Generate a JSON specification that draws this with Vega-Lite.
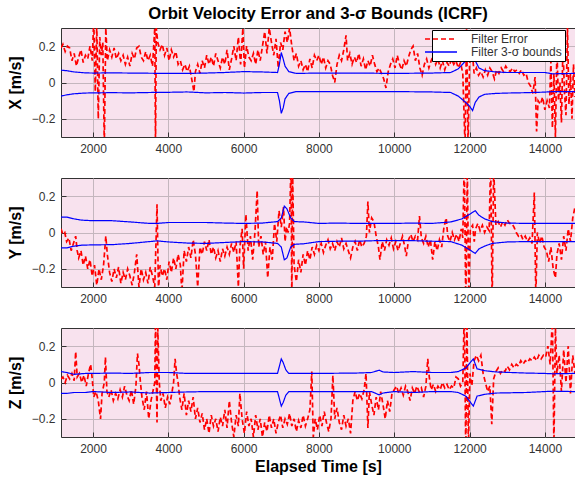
{
"$schema": "https://vega.github.io/schema/vega-lite/v6.json",
"background": "white",
"padding": {"left": 6, "top": 5, "right": 0, "bottom": 4},
"title": {"text": "Orbit Velocity Error and 3-σ Bounds (ICRF)", "font": "Liberation Sans", "fontSize": 16.7, "fontWeight": "bold", "color": "#000", "anchor": "middle", "frame": "group", "offset": 5},
"spacing": 22,
"datasets": {
"eX": [{"t":1150,"Filter Error":0.19},{"t":1200,"Filter Error":0.21},{"t":1260,"Filter Error":0.17},{"t":1320,"Filter Error":0.2},{"t":1380,"Filter Error":0.19},{"t":1440,"Filter Error":0.12},{"t":1500,"Filter Error":0.16},{"t":1560,"Filter Error":0.09},{"t":1620,"Filter Error":0.14},{"t":1680,"Filter Error":0.18},{"t":1740,"Filter Error":0.11},{"t":1800,"Filter Error":0.15},{"t":1860,"Filter Error":0.13},{"t":1920,"Filter Error":0.2},{"t":1980,"Filter Error":0.12},{"t":2020,"Filter Error":0.35},{"t":2060,"Filter Error":-0.05},{"t":2100,"Filter Error":0.32},{"t":2140,"Filter Error":-0.2},{"t":2180,"Filter Error":0.25},{"t":2220,"Filter Error":0.15},{"t":2260,"Filter Error":0.22},{"t":2300,"Filter Error":-0.35},{"t":2340,"Filter Error":0.3},{"t":2380,"Filter Error":0.12},{"t":2440,"Filter Error":0.18},{"t":2500,"Filter Error":0.14},{"t":2560,"Filter Error":0.19},{"t":2620,"Filter Error":0.13},{"t":2680,"Filter Error":0.16},{"t":2740,"Filter Error":0.12},{"t":2800,"Filter Error":0.15},{"t":2860,"Filter Error":0.1},{"t":2920,"Filter Error":0.14},{"t":2980,"Filter Error":0.09},{"t":3040,"Filter Error":0.16},{"t":3100,"Filter Error":0.13},{"t":3160,"Filter Error":0.19},{"t":3220,"Filter Error":0.2},{"t":3280,"Filter Error":0.14},{"t":3340,"Filter Error":0.12},{"t":3400,"Filter Error":0.17},{"t":3460,"Filter Error":0.12},{"t":3520,"Filter Error":0.15},{"t":3580,"Filter Error":0.09},{"t":3640,"Filter Error":0.3},{"t":3660,"Filter Error":-0.35},{"t":3680,"Filter Error":0.3},{"t":3720,"Filter Error":0.22},{"t":3780,"Filter Error":0.18},{"t":3840,"Filter Error":0.21},{"t":3900,"Filter Error":0.15},{"t":3960,"Filter Error":0.19},{"t":4020,"Filter Error":0.12},{"t":4080,"Filter Error":0.18},{"t":4140,"Filter Error":0.14},{"t":4200,"Filter Error":0.17},{"t":4260,"Filter Error":0.1},{"t":4320,"Filter Error":0.12},{"t":4380,"Filter Error":0.07},{"t":4440,"Filter Error":0.1},{"t":4500,"Filter Error":0.06},{"t":4560,"Filter Error":0.09},{"t":4620,"Filter Error":0.02},{"t":4680,"Filter Error":-0.05},{"t":4720,"Filter Error":0.06},{"t":4780,"Filter Error":0.1},{"t":4840,"Filter Error":0.05},{"t":4900,"Filter Error":0.12},{"t":4960,"Filter Error":0.08},{"t":5020,"Filter Error":0.15},{"t":5080,"Filter Error":0.1},{"t":5140,"Filter Error":0.14},{"t":5200,"Filter Error":0.09},{"t":5260,"Filter Error":0.16},{"t":5320,"Filter Error":0.12},{"t":5380,"Filter Error":0.08},{"t":5440,"Filter Error":0.14},{"t":5500,"Filter Error":0.1},{"t":5560,"Filter Error":0.18},{"t":5620,"Filter Error":0.07},{"t":5680,"Filter Error":0.13},{"t":5740,"Filter Error":0.2},{"t":5800,"Filter Error":0.12},{"t":5860,"Filter Error":0.25},{"t":5920,"Filter Error":0.1},{"t":5980,"Filter Error":0.3},{"t":6020,"Filter Error":0.08},{"t":6080,"Filter Error":0.2},{"t":6140,"Filter Error":0.14},{"t":6200,"Filter Error":0.12},{"t":6260,"Filter Error":0.16},{"t":6320,"Filter Error":0.1},{"t":6380,"Filter Error":0.18},{"t":6440,"Filter Error":0.12},{"t":6500,"Filter Error":0.2},{"t":6560,"Filter Error":0.28},{"t":6620,"Filter Error":0.16},{"t":6680,"Filter Error":0.3},{"t":6740,"Filter Error":0.22},{"t":6800,"Filter Error":0.15},{"t":6860,"Filter Error":0.24},{"t":6920,"Filter Error":0.08},{"t":6980,"Filter Error":0.22},{"t":7040,"Filter Error":0.18},{"t":7100,"Filter Error":0.28},{"t":7160,"Filter Error":0.22},{"t":7220,"Filter Error":0.3},{"t":7280,"Filter Error":0.2},{"t":7340,"Filter Error":0.12},{"t":7400,"Filter Error":0.16},{"t":7460,"Filter Error":0.09},{"t":7520,"Filter Error":0.12},{"t":7580,"Filter Error":0.07},{"t":7640,"Filter Error":0.1},{"t":7700,"Filter Error":0.06},{"t":7760,"Filter Error":0.13},{"t":7820,"Filter Error":0.08},{"t":7880,"Filter Error":0.15},{"t":7940,"Filter Error":0.12},{"t":8000,"Filter Error":0.15},{"t":8060,"Filter Error":0.1},{"t":8120,"Filter Error":0.14},{"t":8180,"Filter Error":0.08},{"t":8240,"Filter Error":0.12},{"t":8300,"Filter Error":0.1},{"t":8360,"Filter Error":0.04},{"t":8420,"Filter Error":0.0},{"t":8480,"Filter Error":0.1},{"t":8540,"Filter Error":0.15},{"t":8600,"Filter Error":0.12},{"t":8660,"Filter Error":0.18},{"t":8720,"Filter Error":0.26},{"t":8760,"Filter Error":0.12},{"t":8820,"Filter Error":0.16},{"t":8880,"Filter Error":0.1},{"t":8940,"Filter Error":0.14},{"t":9000,"Filter Error":0.11},{"t":9060,"Filter Error":0.16},{"t":9120,"Filter Error":0.09},{"t":9180,"Filter Error":0.13},{"t":9240,"Filter Error":0.07},{"t":9300,"Filter Error":0.12},{"t":9360,"Filter Error":0.09},{"t":9420,"Filter Error":0.15},{"t":9480,"Filter Error":0.1},{"t":9540,"Filter Error":0.06},{"t":9600,"Filter Error":0.08},{"t":9660,"Filter Error":0.05},{"t":9720,"Filter Error":0.02},{"t":9780,"Filter Error":-0.03},{"t":9840,"Filter Error":0.06},{"t":9900,"Filter Error":0.1},{"t":9960,"Filter Error":0.13},{"t":10020,"Filter Error":0.08},{"t":10080,"Filter Error":0.15},{"t":10140,"Filter Error":0.1},{"t":10200,"Filter Error":0.07},{"t":10260,"Filter Error":0.12},{"t":10320,"Filter Error":0.09},{"t":10380,"Filter Error":0.14},{"t":10440,"Filter Error":0.18},{"t":10500,"Filter Error":0.2},{"t":10560,"Filter Error":0.12},{"t":10620,"Filter Error":0.16},{"t":10680,"Filter Error":0.08},{"t":10740,"Filter Error":0.04},{"t":10800,"Filter Error":0.1},{"t":10860,"Filter Error":0.13},{"t":10920,"Filter Error":0.08},{"t":10980,"Filter Error":0.12},{"t":11040,"Filter Error":0.15},{"t":11100,"Filter Error":0.1},{"t":11160,"Filter Error":0.13},{"t":11220,"Filter Error":0.08},{"t":11280,"Filter Error":0.12},{"t":11340,"Filter Error":0.07},{"t":11400,"Filter Error":0.11},{"t":11460,"Filter Error":0.09},{"t":11520,"Filter Error":0.13},{"t":11580,"Filter Error":0.1},{"t":11640,"Filter Error":0.12},{"t":11700,"Filter Error":0.08},{"t":11760,"Filter Error":0.11},{"t":11820,"Filter Error":0.05},{"t":11880,"Filter Error":-0.35},{"t":11920,"Filter Error":0.3},{"t":11960,"Filter Error":-0.35},{"t":12000,"Filter Error":0.1},{"t":12060,"Filter Error":0.2},{"t":12120,"Filter Error":0.05},{"t":12180,"Filter Error":0.08},{"t":12240,"Filter Error":0.04},{"t":12300,"Filter Error":0.06},{"t":12360,"Filter Error":0.03},{"t":12420,"Filter Error":0.07},{"t":12480,"Filter Error":0.04},{"t":12540,"Filter Error":0.08},{"t":12600,"Filter Error":0.06},{"t":12660,"Filter Error":0.02},{"t":12720,"Filter Error":0.07},{"t":12780,"Filter Error":0.05},{"t":12840,"Filter Error":0.08},{"t":12900,"Filter Error":0.06},{"t":12960,"Filter Error":0.09},{"t":13020,"Filter Error":0.07},{"t":13080,"Filter Error":0.06},{"t":13140,"Filter Error":0.08},{"t":13200,"Filter Error":0.06},{"t":13260,"Filter Error":0.07},{"t":13320,"Filter Error":0.05},{"t":13380,"Filter Error":0.07},{"t":13440,"Filter Error":0.04},{"t":13500,"Filter Error":0.05},{"t":13560,"Filter Error":0.0},{"t":13620,"Filter Error":-0.02},{"t":13680,"Filter Error":-0.06},{"t":13740,"Filter Error":0.03},{"t":13780,"Filter Error":-0.27},{"t":13820,"Filter Error":-0.1},{"t":13880,"Filter Error":-0.12},{"t":13940,"Filter Error":-0.08},{"t":14000,"Filter Error":-0.15},{"t":14060,"Filter Error":-0.1},{"t":14120,"Filter Error":-0.14},{"t":14160,"Filter Error":0.12},{"t":14200,"Filter Error":-0.25},{"t":14240,"Filter Error":0.05},{"t":14280,"Filter Error":-0.3},{"t":14320,"Filter Error":0.18},{"t":14360,"Filter Error":-0.1},{"t":14400,"Filter Error":0.0},{"t":14440,"Filter Error":-0.22},{"t":14480,"Filter Error":0.2},{"t":14520,"Filter Error":-0.05},{"t":14560,"Filter Error":-0.18},{"t":14600,"Filter Error":0.3},{"t":14640,"Filter Error":-0.12},{"t":14680,"Filter Error":0.05},{"t":14720,"Filter Error":-0.2},{"t":14760,"Filter Error":0.1},{"t":14800,"Filter Error":-0.08}],
"bX": [{"t":1150,"s":"Filter 3-σ bounds","up":0.068,"lo":-0.075},{"t":1300,"s":"Filter 3-σ bounds","up":0.065,"lo":-0.068},{"t":1500,"s":"Filter 3-σ bounds","up":0.058,"lo":-0.062},{"t":1800,"s":"Filter 3-σ bounds","up":0.053,"lo":-0.058},{"t":2000,"s":"Filter 3-σ bounds","up":0.052,"lo":-0.057},{"t":2500,"s":"Filter 3-σ bounds","up":0.053,"lo":-0.056},{"t":3000,"s":"Filter 3-σ bounds","up":0.052,"lo":-0.057},{"t":3500,"s":"Filter 3-σ bounds","up":0.051,"lo":-0.055},{"t":4000,"s":"Filter 3-σ bounds","up":0.05,"lo":-0.054},{"t":4500,"s":"Filter 3-σ bounds","up":0.05,"lo":-0.052},{"t":5000,"s":"Filter 3-σ bounds","up":0.052,"lo":-0.057},{"t":5500,"s":"Filter 3-σ bounds","up":0.055,"lo":-0.055},{"t":6000,"s":"Filter 3-σ bounds","up":0.06,"lo":-0.058},{"t":6500,"s":"Filter 3-σ bounds","up":0.058,"lo":-0.055},{"t":6900,"s":"Filter 3-σ bounds","up":0.055,"lo":-0.055},{"t":6950,"s":"Filter 3-σ bounds","up":0.1,"lo":-0.1},{"t":7000,"s":"Filter 3-σ bounds","up":0.165,"lo":-0.17},{"t":7050,"s":"Filter 3-σ bounds","up":0.13,"lo":-0.14},{"t":7100,"s":"Filter 3-σ bounds","up":0.09,"lo":-0.09},{"t":7200,"s":"Filter 3-σ bounds","up":0.06,"lo":-0.06},{"t":7400,"s":"Filter 3-σ bounds","up":0.05,"lo":-0.05},{"t":8000,"s":"Filter 3-σ bounds","up":0.052,"lo":-0.05},{"t":9000,"s":"Filter 3-σ bounds","up":0.052,"lo":-0.05},{"t":10000,"s":"Filter 3-σ bounds","up":0.05,"lo":-0.05},{"t":11000,"s":"Filter 3-σ bounds","up":0.052,"lo":-0.052},{"t":11500,"s":"Filter 3-σ bounds","up":0.055,"lo":-0.055},{"t":11700,"s":"Filter 3-σ bounds","up":0.075,"lo":-0.075},{"t":11900,"s":"Filter 3-σ bounds","up":0.12,"lo":-0.11},{"t":12000,"s":"Filter 3-σ bounds","up":0.16,"lo":-0.13},{"t":12080,"s":"Filter 3-σ bounds","up":0.2,"lo":-0.155},{"t":12150,"s":"Filter 3-σ bounds","up":0.12,"lo":-0.11},{"t":12250,"s":"Filter 3-σ bounds","up":0.08,"lo":-0.08},{"t":12400,"s":"Filter 3-σ bounds","up":0.065,"lo":-0.065},{"t":12700,"s":"Filter 3-σ bounds","up":0.058,"lo":-0.06},{"t":13000,"s":"Filter 3-σ bounds","up":0.055,"lo":-0.058},{"t":13500,"s":"Filter 3-σ bounds","up":0.055,"lo":-0.056},{"t":14000,"s":"Filter 3-σ bounds","up":0.055,"lo":-0.053},{"t":14200,"s":"Filter 3-σ bounds","up":0.048,"lo":-0.05},{"t":14800,"s":"Filter 3-σ bounds","up":0.05,"lo":-0.05}],
"eY": [{"t":1150,"Filter Error":0.02},{"t":1200,"Filter Error":-0.01},{"t":1250,"Filter Error":0.0},{"t":1300,"Filter Error":-0.05},{"t":1360,"Filter Error":-0.03},{"t":1420,"Filter Error":-0.1},{"t":1480,"Filter Error":-0.06},{"t":1540,"Filter Error":-0.02},{"t":1580,"Filter Error":-0.1},{"t":1620,"Filter Error":-0.14},{"t":1680,"Filter Error":-0.1},{"t":1740,"Filter Error":-0.18},{"t":1800,"Filter Error":-0.13},{"t":1860,"Filter Error":-0.2},{"t":1920,"Filter Error":-0.15},{"t":1980,"Filter Error":-0.24},{"t":2040,"Filter Error":-0.18},{"t":2100,"Filter Error":-0.29},{"t":2160,"Filter Error":-0.2},{"t":2220,"Filter Error":-0.26},{"t":2280,"Filter Error":-0.18},{"t":2340,"Filter Error":-0.02},{"t":2380,"Filter Error":-0.12},{"t":2440,"Filter Error":-0.22},{"t":2500,"Filter Error":-0.27},{"t":2560,"Filter Error":-0.2},{"t":2620,"Filter Error":-0.25},{"t":2680,"Filter Error":-0.19},{"t":2740,"Filter Error":-0.28},{"t":2800,"Filter Error":-0.22},{"t":2860,"Filter Error":-0.26},{"t":2920,"Filter Error":-0.2},{"t":2980,"Filter Error":-0.24},{"t":3040,"Filter Error":-0.29},{"t":3100,"Filter Error":-0.22},{"t":3160,"Filter Error":-0.12},{"t":3220,"Filter Error":-0.3},{"t":3280,"Filter Error":-0.2},{"t":3340,"Filter Error":-0.26},{"t":3400,"Filter Error":-0.22},{"t":3460,"Filter Error":-0.28},{"t":3520,"Filter Error":-0.19},{"t":3580,"Filter Error":-0.24},{"t":3640,"Filter Error":-0.3},{"t":3700,"Filter Error":0.155},{"t":3740,"Filter Error":-0.32},{"t":3780,"Filter Error":-0.18},{"t":3840,"Filter Error":-0.24},{"t":3900,"Filter Error":-0.2},{"t":3960,"Filter Error":-0.26},{"t":4020,"Filter Error":-0.16},{"t":4080,"Filter Error":-0.22},{"t":4140,"Filter Error":-0.14},{"t":4200,"Filter Error":-0.2},{"t":4260,"Filter Error":-0.12},{"t":4320,"Filter Error":-0.18},{"t":4360,"Filter Error":-0.33},{"t":4420,"Filter Error":-0.1},{"t":4480,"Filter Error":-0.16},{"t":4540,"Filter Error":-0.08},{"t":4600,"Filter Error":-0.14},{"t":4660,"Filter Error":-0.04},{"t":4720,"Filter Error":-0.12},{"t":4780,"Filter Error":-0.3},{"t":4840,"Filter Error":-0.08},{"t":4900,"Filter Error":-0.12},{"t":4960,"Filter Error":-0.05},{"t":5020,"Filter Error":-0.1},{"t":5080,"Filter Error":-0.04},{"t":5140,"Filter Error":-0.12},{"t":5200,"Filter Error":-0.08},{"t":5260,"Filter Error":-0.14},{"t":5320,"Filter Error":-0.1},{"t":5380,"Filter Error":-0.16},{"t":5440,"Filter Error":-0.09},{"t":5500,"Filter Error":-0.13},{"t":5560,"Filter Error":-0.08},{"t":5620,"Filter Error":-0.12},{"t":5680,"Filter Error":-0.06},{"t":5740,"Filter Error":-0.11},{"t":5800,"Filter Error":-0.05},{"t":5860,"Filter Error":-0.3},{"t":5900,"Filter Error":-0.08},{"t":5960,"Filter Error":0.02},{"t":6000,"Filter Error":-0.2},{"t":6060,"Filter Error":0.1},{"t":6120,"Filter Error":-0.1},{"t":6180,"Filter Error":-0.02},{"t":6240,"Filter Error":-0.15},{"t":6300,"Filter Error":0.0},{"t":6360,"Filter Error":0.23},{"t":6400,"Filter Error":-0.08},{"t":6460,"Filter Error":-0.02},{"t":6520,"Filter Error":-0.12},{"t":6580,"Filter Error":-0.05},{"t":6640,"Filter Error":-0.25},{"t":6700,"Filter Error":-0.08},{"t":6760,"Filter Error":-0.15},{"t":6820,"Filter Error":0.05},{"t":6880,"Filter Error":-0.05},{"t":6940,"Filter Error":0.12},{"t":7000,"Filter Error":0.03},{"t":7060,"Filter Error":0.14},{"t":7100,"Filter Error":-0.05},{"t":7140,"Filter Error":0.03},{"t":7180,"Filter Error":0.0},{"t":7220,"Filter Error":0.05},{"t":7260,"Filter Error":0.4},{"t":7280,"Filter Error":-0.4},{"t":7300,"Filter Error":0.35},{"t":7340,"Filter Error":-0.18},{"t":7400,"Filter Error":-0.27},{"t":7460,"Filter Error":-0.15},{"t":7520,"Filter Error":-0.22},{"t":7580,"Filter Error":-0.12},{"t":7640,"Filter Error":-0.18},{"t":7700,"Filter Error":-0.1},{"t":7760,"Filter Error":-0.15},{"t":7820,"Filter Error":-0.08},{"t":7880,"Filter Error":-0.12},{"t":7940,"Filter Error":-0.07},{"t":8000,"Filter Error":-0.1},{"t":8060,"Filter Error":-0.06},{"t":8120,"Filter Error":-0.11},{"t":8180,"Filter Error":-0.07},{"t":8240,"Filter Error":-0.04},{"t":8300,"Filter Error":-0.09},{"t":8360,"Filter Error":-0.06},{"t":8420,"Filter Error":-0.1},{"t":8480,"Filter Error":-0.05},{"t":8540,"Filter Error":-0.08},{"t":8600,"Filter Error":-0.03},{"t":8660,"Filter Error":-0.09},{"t":8720,"Filter Error":-0.06},{"t":8780,"Filter Error":-0.1},{"t":8840,"Filter Error":-0.14},{"t":8900,"Filter Error":-0.08},{"t":8960,"Filter Error":-0.05},{"t":9020,"Filter Error":-0.1},{"t":9080,"Filter Error":-0.04},{"t":9140,"Filter Error":-0.08},{"t":9200,"Filter Error":-0.06},{"t":9260,"Filter Error":-0.02},{"t":9300,"Filter Error":0.17},{"t":9340,"Filter Error":0.0},{"t":9400,"Filter Error":0.08},{"t":9460,"Filter Error":0.06},{"t":9520,"Filter Error":-0.02},{"t":9580,"Filter Error":-0.08},{"t":9620,"Filter Error":-0.15},{"t":9680,"Filter Error":-0.05},{"t":9740,"Filter Error":-0.1},{"t":9800,"Filter Error":-0.04},{"t":9860,"Filter Error":-0.07},{"t":9920,"Filter Error":-0.03},{"t":9980,"Filter Error":-0.09},{"t":10040,"Filter Error":-0.05},{"t":10100,"Filter Error":-0.1},{"t":10160,"Filter Error":-0.06},{"t":10220,"Filter Error":-0.02},{"t":10280,"Filter Error":-0.08},{"t":10320,"Filter Error":-0.13},{"t":10380,"Filter Error":-0.04},{"t":10440,"Filter Error":-0.01},{"t":10500,"Filter Error":-0.05},{"t":10560,"Filter Error":-0.02},{"t":10620,"Filter Error":-0.04},{"t":10670,"Filter Error":0.09},{"t":10720,"Filter Error":-0.03},{"t":10780,"Filter Error":-0.06},{"t":10840,"Filter Error":-0.02},{"t":10900,"Filter Error":-0.08},{"t":10960,"Filter Error":-0.04},{"t":11020,"Filter Error":-0.15},{"t":11080,"Filter Error":-0.05},{"t":11140,"Filter Error":-0.1},{"t":11200,"Filter Error":-0.04},{"t":11260,"Filter Error":-0.08},{"t":11320,"Filter Error":0.03},{"t":11380,"Filter Error":0.08},{"t":11420,"Filter Error":-0.02},{"t":11480,"Filter Error":-0.05},{"t":11540,"Filter Error":0.0},{"t":11600,"Filter Error":-0.04},{"t":11660,"Filter Error":-0.01},{"t":11720,"Filter Error":-0.05},{"t":11780,"Filter Error":0.02},{"t":11820,"Filter Error":-0.03},{"t":11860,"Filter Error":0.4},{"t":11900,"Filter Error":-0.4},{"t":11940,"Filter Error":0.35},{"t":11980,"Filter Error":-0.35},{"t":12020,"Filter Error":0.02},{"t":12080,"Filter Error":0.04},{"t":12125,"Filter Error":-0.05},{"t":12160,"Filter Error":0.02},{"t":12220,"Filter Error":0.05},{"t":12280,"Filter Error":0.01},{"t":12340,"Filter Error":0.04},{"t":12400,"Filter Error":0.0},{"t":12460,"Filter Error":0.03},{"t":12520,"Filter Error":0.01},{"t":12560,"Filter Error":0.4},{"t":12600,"Filter Error":-0.4},{"t":12640,"Filter Error":0.35},{"t":12700,"Filter Error":0.04},{"t":12760,"Filter Error":0.06},{"t":12820,"Filter Error":0.03},{"t":12880,"Filter Error":0.06},{"t":12940,"Filter Error":0.04},{"t":13000,"Filter Error":0.07},{"t":13060,"Filter Error":0.05},{"t":13120,"Filter Error":0.05},{"t":13180,"Filter Error":0.03},{"t":13240,"Filter Error":0.0},{"t":13300,"Filter Error":-0.02},{"t":13360,"Filter Error":-0.01},{"t":13420,"Filter Error":-0.04},{"t":13480,"Filter Error":-0.02},{"t":13540,"Filter Error":-0.05},{"t":13600,"Filter Error":-0.03},{"t":13660,"Filter Error":-0.06},{"t":13720,"Filter Error":0.22},{"t":13760,"Filter Error":-0.35},{"t":13800,"Filter Error":0.0},{"t":13860,"Filter Error":-0.06},{"t":13920,"Filter Error":-0.02},{"t":13980,"Filter Error":-0.08},{"t":14040,"Filter Error":-0.1},{"t":14100,"Filter Error":-0.16},{"t":14160,"Filter Error":-0.08},{"t":14220,"Filter Error":-0.2},{"t":14280,"Filter Error":-0.25},{"t":14320,"Filter Error":-0.12},{"t":14380,"Filter Error":-0.06},{"t":14440,"Filter Error":-0.15},{"t":14500,"Filter Error":-0.02},{"t":14560,"Filter Error":-0.1},{"t":14620,"Filter Error":0.02},{"t":14680,"Filter Error":-0.05},{"t":14740,"Filter Error":0.08},{"t":14800,"Filter Error":0.14}],
"bY": [{"t":1150,"s":"Filter 3-σ bounds","up":0.085,"lo":-0.085},{"t":1300,"s":"Filter 3-σ bounds","up":0.085,"lo":-0.085},{"t":1500,"s":"Filter 3-σ bounds","up":0.075,"lo":-0.075},{"t":1700,"s":"Filter 3-σ bounds","up":0.068,"lo":-0.07},{"t":2000,"s":"Filter 3-σ bounds","up":0.065,"lo":-0.068},{"t":2500,"s":"Filter 3-σ bounds","up":0.065,"lo":-0.067},{"t":3000,"s":"Filter 3-σ bounds","up":0.058,"lo":-0.06},{"t":3500,"s":"Filter 3-σ bounds","up":0.05,"lo":-0.05},{"t":3700,"s":"Filter 3-σ bounds","up":0.05,"lo":-0.046},{"t":4000,"s":"Filter 3-σ bounds","up":0.055,"lo":-0.052},{"t":4500,"s":"Filter 3-σ bounds","up":0.055,"lo":-0.058},{"t":5000,"s":"Filter 3-σ bounds","up":0.055,"lo":-0.06},{"t":5500,"s":"Filter 3-σ bounds","up":0.052,"lo":-0.055},{"t":6000,"s":"Filter 3-σ bounds","up":0.05,"lo":-0.05},{"t":6500,"s":"Filter 3-σ bounds","up":0.052,"lo":-0.052},{"t":6900,"s":"Filter 3-σ bounds","up":0.06,"lo":-0.06},{"t":7000,"s":"Filter 3-σ bounds","up":0.08,"lo":-0.08},{"t":7080,"s":"Filter 3-σ bounds","up":0.145,"lo":-0.15},{"t":7150,"s":"Filter 3-σ bounds","up":0.13,"lo":-0.14},{"t":7250,"s":"Filter 3-σ bounds","up":0.08,"lo":-0.08},{"t":7350,"s":"Filter 3-σ bounds","up":0.06,"lo":-0.065},{"t":7600,"s":"Filter 3-σ bounds","up":0.058,"lo":-0.062},{"t":8000,"s":"Filter 3-σ bounds","up":0.05,"lo":-0.05},{"t":8500,"s":"Filter 3-σ bounds","up":0.052,"lo":-0.048},{"t":9000,"s":"Filter 3-σ bounds","up":0.05,"lo":-0.048},{"t":9500,"s":"Filter 3-σ bounds","up":0.05,"lo":-0.045},{"t":10000,"s":"Filter 3-σ bounds","up":0.05,"lo":-0.045},{"t":10500,"s":"Filter 3-σ bounds","up":0.052,"lo":-0.045},{"t":11000,"s":"Filter 3-σ bounds","up":0.05,"lo":-0.048},{"t":11500,"s":"Filter 3-σ bounds","up":0.058,"lo":-0.05},{"t":11800,"s":"Filter 3-σ bounds","up":0.075,"lo":-0.07},{"t":12000,"s":"Filter 3-σ bounds","up":0.1,"lo":-0.095},{"t":12150,"s":"Filter 3-σ bounds","up":0.12,"lo":-0.115},{"t":12250,"s":"Filter 3-σ bounds","up":0.095,"lo":-0.09},{"t":12400,"s":"Filter 3-σ bounds","up":0.075,"lo":-0.075},{"t":12600,"s":"Filter 3-σ bounds","up":0.06,"lo":-0.06},{"t":13000,"s":"Filter 3-σ bounds","up":0.052,"lo":-0.052},{"t":13500,"s":"Filter 3-σ bounds","up":0.05,"lo":-0.05},{"t":14000,"s":"Filter 3-σ bounds","up":0.05,"lo":-0.05},{"t":14800,"s":"Filter 3-σ bounds","up":0.05,"lo":-0.05}],
"eZ": [{"t":1150,"Filter Error":0.02},{"t":1200,"Filter Error":0.03},{"t":1260,"Filter Error":0.0},{"t":1320,"Filter Error":0.04},{"t":1380,"Filter Error":0.02},{"t":1440,"Filter Error":0.05},{"t":1500,"Filter Error":0.01},{"t":1540,"Filter Error":0.17},{"t":1580,"Filter Error":0.03},{"t":1640,"Filter Error":0.05},{"t":1700,"Filter Error":0.0},{"t":1760,"Filter Error":0.04},{"t":1820,"Filter Error":-0.02},{"t":1880,"Filter Error":0.05},{"t":1936,"Filter Error":0.1},{"t":1980,"Filter Error":0.02},{"t":2020,"Filter Error":-0.08},{"t":2080,"Filter Error":-0.05},{"t":2140,"Filter Error":-0.1},{"t":2200,"Filter Error":-0.2},{"t":2240,"Filter Error":-0.06},{"t":2300,"Filter Error":0.0},{"t":2330,"Filter Error":0.14},{"t":2370,"Filter Error":-0.05},{"t":2420,"Filter Error":-0.08},{"t":2480,"Filter Error":-0.04},{"t":2540,"Filter Error":-0.1},{"t":2600,"Filter Error":-0.06},{"t":2660,"Filter Error":-0.09},{"t":2720,"Filter Error":-0.04},{"t":2780,"Filter Error":-0.08},{"t":2840,"Filter Error":-0.02},{"t":2900,"Filter Error":-0.07},{"t":2960,"Filter Error":-0.1},{"t":3020,"Filter Error":-0.04},{"t":3080,"Filter Error":-0.12},{"t":3140,"Filter Error":-0.02},{"t":3180,"Filter Error":0.16},{"t":3220,"Filter Error":0.1},{"t":3260,"Filter Error":0.0},{"t":3300,"Filter Error":-0.08},{"t":3360,"Filter Error":-0.15},{"t":3420,"Filter Error":-0.05},{"t":3480,"Filter Error":-0.2},{"t":3540,"Filter Error":-0.1},{"t":3600,"Filter Error":-0.04},{"t":3640,"Filter Error":0.0},{"t":3660,"Filter Error":0.35},{"t":3680,"Filter Error":0.05},{"t":3700,"Filter Error":-0.22},{"t":3720,"Filter Error":0.3},{"t":3760,"Filter Error":0.0},{"t":3800,"Filter Error":-0.1},{"t":3860,"Filter Error":-0.06},{"t":3920,"Filter Error":-0.14},{"t":3980,"Filter Error":-0.08},{"t":4040,"Filter Error":-0.12},{"t":4100,"Filter Error":-0.05},{"t":4140,"Filter Error":0.0},{"t":4180,"Filter Error":0.13},{"t":4220,"Filter Error":0.05},{"t":4260,"Filter Error":0.0},{"t":4300,"Filter Error":-0.08},{"t":4360,"Filter Error":-0.15},{"t":4420,"Filter Error":-0.06},{"t":4480,"Filter Error":-0.18},{"t":4540,"Filter Error":-0.1},{"t":4600,"Filter Error":-0.16},{"t":4660,"Filter Error":-0.08},{"t":4720,"Filter Error":-0.2},{"t":4780,"Filter Error":-0.14},{"t":4840,"Filter Error":-0.22},{"t":4900,"Filter Error":-0.17},{"t":4960,"Filter Error":-0.26},{"t":5020,"Filter Error":-0.2},{"t":5080,"Filter Error":-0.28},{"t":5140,"Filter Error":-0.18},{"t":5200,"Filter Error":-0.24},{"t":5260,"Filter Error":-0.2},{"t":5320,"Filter Error":-0.27},{"t":5380,"Filter Error":-0.19},{"t":5440,"Filter Error":-0.24},{"t":5500,"Filter Error":-0.15},{"t":5560,"Filter Error":-0.25},{"t":5620,"Filter Error":-0.1},{"t":5680,"Filter Error":-0.22},{"t":5740,"Filter Error":-0.3},{"t":5800,"Filter Error":-0.18},{"t":5860,"Filter Error":-0.24},{"t":5900,"Filter Error":-0.06},{"t":5960,"Filter Error":-0.2},{"t":6020,"Filter Error":-0.28},{"t":6080,"Filter Error":-0.16},{"t":6140,"Filter Error":-0.24},{"t":6200,"Filter Error":-0.2},{"t":6260,"Filter Error":-0.3},{"t":6320,"Filter Error":-0.18},{"t":6380,"Filter Error":-0.26},{"t":6440,"Filter Error":-0.2},{"t":6500,"Filter Error":-0.3},{"t":6560,"Filter Error":-0.22},{"t":6620,"Filter Error":-0.27},{"t":6680,"Filter Error":-0.18},{"t":6740,"Filter Error":-0.25},{"t":6800,"Filter Error":-0.2},{"t":6860,"Filter Error":-0.28},{"t":6920,"Filter Error":-0.22},{"t":6980,"Filter Error":-0.18},{"t":7040,"Filter Error":-0.25},{"t":7100,"Filter Error":-0.2},{"t":7160,"Filter Error":-0.23},{"t":7220,"Filter Error":-0.17},{"t":7280,"Filter Error":-0.24},{"t":7340,"Filter Error":-0.2},{"t":7400,"Filter Error":-0.27},{"t":7460,"Filter Error":-0.21},{"t":7520,"Filter Error":-0.25},{"t":7580,"Filter Error":-0.18},{"t":7640,"Filter Error":-0.24},{"t":7700,"Filter Error":-0.2},{"t":7760,"Filter Error":-0.15},{"t":7810,"Filter Error":0.06},{"t":7850,"Filter Error":-0.3},{"t":7900,"Filter Error":-0.2},{"t":7960,"Filter Error":-0.26},{"t":8020,"Filter Error":-0.18},{"t":8080,"Filter Error":-0.24},{"t":8140,"Filter Error":-0.16},{"t":8200,"Filter Error":-0.22},{"t":8260,"Filter Error":-0.27},{"t":8320,"Filter Error":-0.2},{"t":8370,"Filter Error":0.04},{"t":8420,"Filter Error":-0.2},{"t":8480,"Filter Error":-0.14},{"t":8540,"Filter Error":-0.22},{"t":8600,"Filter Error":-0.26},{"t":8660,"Filter Error":-0.18},{"t":8720,"Filter Error":-0.24},{"t":8780,"Filter Error":-0.2},{"t":8840,"Filter Error":-0.28},{"t":8900,"Filter Error":-0.1},{"t":8960,"Filter Error":-0.05},{"t":9020,"Filter Error":-0.1},{"t":9080,"Filter Error":-0.06},{"t":9140,"Filter Error":-0.09},{"t":9200,"Filter Error":-0.04},{"t":9250,"Filter Error":0.05},{"t":9300,"Filter Error":-0.25},{"t":9340,"Filter Error":-0.05},{"t":9400,"Filter Error":-0.12},{"t":9460,"Filter Error":-0.18},{"t":9520,"Filter Error":-0.08},{"t":9580,"Filter Error":-0.15},{"t":9640,"Filter Error":-0.05},{"t":9700,"Filter Error":-0.12},{"t":9760,"Filter Error":-0.2},{"t":9820,"Filter Error":-0.1},{"t":9880,"Filter Error":-0.16},{"t":9940,"Filter Error":-0.06},{"t":10000,"Filter Error":-0.04},{"t":10060,"Filter Error":-0.02},{"t":10120,"Filter Error":-0.06},{"t":10180,"Filter Error":-0.03},{"t":10240,"Filter Error":-0.07},{"t":10300,"Filter Error":-0.02},{"t":10360,"Filter Error":-0.05},{"t":10420,"Filter Error":-0.1},{"t":10480,"Filter Error":-0.03},{"t":10540,"Filter Error":-0.06},{"t":10600,"Filter Error":-0.02},{"t":10660,"Filter Error":-0.05},{"t":10720,"Filter Error":-0.03},{"t":10780,"Filter Error":-0.08},{"t":10840,"Filter Error":-0.02},{"t":10890,"Filter Error":0.13},{"t":10930,"Filter Error":0.03},{"t":10980,"Filter Error":-0.04},{"t":11040,"Filter Error":-0.01},{"t":11100,"Filter Error":-0.05},{"t":11160,"Filter Error":-0.02},{"t":11220,"Filter Error":-0.04},{"t":11280,"Filter Error":0.0},{"t":11340,"Filter Error":-0.03},{"t":11400,"Filter Error":-0.01},{"t":11460,"Filter Error":-0.04},{"t":11520,"Filter Error":-0.02},{"t":11580,"Filter Error":-0.03},{"t":11640,"Filter Error":0.03},{"t":11700,"Filter Error":0.02},{"t":11760,"Filter Error":-0.02},{"t":11820,"Filter Error":0.0},{"t":11860,"Filter Error":0.4},{"t":11900,"Filter Error":-0.4},{"t":11930,"Filter Error":0.35},{"t":11970,"Filter Error":-0.35},{"t":12010,"Filter Error":0.05},{"t":12060,"Filter Error":-0.02},{"t":12120,"Filter Error":0.12},{"t":12180,"Filter Error":0.15},{"t":12240,"Filter Error":0.12},{"t":12300,"Filter Error":0.15},{"t":12360,"Filter Error":0.05},{"t":12420,"Filter Error":0.0},{"t":12480,"Filter Error":-0.05},{"t":12540,"Filter Error":-0.02},{"t":12590,"Filter Error":-0.23},{"t":12640,"Filter Error":0.02},{"t":12700,"Filter Error":0.06},{"t":12760,"Filter Error":0.08},{"t":12820,"Filter Error":0.05},{"t":12880,"Filter Error":0.07},{"t":12940,"Filter Error":0.06},{"t":13000,"Filter Error":0.09},{"t":13060,"Filter Error":0.07},{"t":13120,"Filter Error":0.1},{"t":13180,"Filter Error":0.08},{"t":13240,"Filter Error":0.1},{"t":13300,"Filter Error":0.09},{"t":13360,"Filter Error":0.12},{"t":13420,"Filter Error":0.1},{"t":13480,"Filter Error":0.12},{"t":13540,"Filter Error":0.11},{"t":13600,"Filter Error":0.13},{"t":13660,"Filter Error":0.12},{"t":13720,"Filter Error":0.14},{"t":13780,"Filter Error":0.12},{"t":13840,"Filter Error":0.15},{"t":13900,"Filter Error":0.13},{"t":13960,"Filter Error":0.15},{"t":14020,"Filter Error":0.14},{"t":14080,"Filter Error":0.2},{"t":14140,"Filter Error":0.1},{"t":14200,"Filter Error":0.35},{"t":14240,"Filter Error":-0.35},{"t":14280,"Filter Error":0.3},{"t":14320,"Filter Error":0.05},{"t":14380,"Filter Error":0.15},{"t":14440,"Filter Error":-0.05},{"t":14500,"Filter Error":0.18},{"t":14560,"Filter Error":0.0},{"t":14620,"Filter Error":0.2},{"t":14680,"Filter Error":-0.06},{"t":14740,"Filter Error":0.15},{"t":14800,"Filter Error":0.05}],
"bZ": [{"t":1150,"s":"Filter 3-σ bounds","up":0.06,"lo":-0.06},{"t":1300,"s":"Filter 3-σ bounds","up":0.055,"lo":-0.06},{"t":1500,"s":"Filter 3-σ bounds","up":0.045,"lo":-0.055},{"t":1800,"s":"Filter 3-σ bounds","up":0.05,"lo":-0.055},{"t":2000,"s":"Filter 3-σ bounds","up":0.05,"lo":-0.05},{"t":2500,"s":"Filter 3-σ bounds","up":0.052,"lo":-0.055},{"t":3000,"s":"Filter 3-σ bounds","up":0.05,"lo":-0.052},{"t":3500,"s":"Filter 3-σ bounds","up":0.055,"lo":-0.058},{"t":4000,"s":"Filter 3-σ bounds","up":0.055,"lo":-0.055},{"t":4500,"s":"Filter 3-σ bounds","up":0.05,"lo":-0.052},{"t":5000,"s":"Filter 3-σ bounds","up":0.05,"lo":-0.05},{"t":6000,"s":"Filter 3-σ bounds","up":0.05,"lo":-0.05},{"t":6900,"s":"Filter 3-σ bounds","up":0.05,"lo":-0.05},{"t":6950,"s":"Filter 3-σ bounds","up":0.09,"lo":-0.09},{"t":7000,"s":"Filter 3-σ bounds","up":0.13,"lo":-0.13},{"t":7050,"s":"Filter 3-σ bounds","up":0.11,"lo":-0.11},{"t":7120,"s":"Filter 3-σ bounds","up":0.07,"lo":-0.07},{"t":7200,"s":"Filter 3-σ bounds","up":0.05,"lo":-0.05},{"t":8000,"s":"Filter 3-σ bounds","up":0.05,"lo":-0.05},{"t":9000,"s":"Filter 3-σ bounds","up":0.052,"lo":-0.05},{"t":9400,"s":"Filter 3-σ bounds","up":0.055,"lo":-0.05},{"t":9600,"s":"Filter 3-σ bounds","up":0.068,"lo":-0.068},{"t":9700,"s":"Filter 3-σ bounds","up":0.058,"lo":-0.058},{"t":10000,"s":"Filter 3-σ bounds","up":0.055,"lo":-0.05},{"t":10500,"s":"Filter 3-σ bounds","up":0.06,"lo":-0.055},{"t":11000,"s":"Filter 3-σ bounds","up":0.055,"lo":-0.05},{"t":11500,"s":"Filter 3-σ bounds","up":0.055,"lo":-0.05},{"t":11700,"s":"Filter 3-σ bounds","up":0.06,"lo":-0.055},{"t":11900,"s":"Filter 3-σ bounds","up":0.08,"lo":-0.075},{"t":12100,"s":"Filter 3-σ bounds","up":0.13,"lo":-0.13},{"t":12200,"s":"Filter 3-σ bounds","up":0.075,"lo":-0.075},{"t":12400,"s":"Filter 3-σ bounds","up":0.065,"lo":-0.065},{"t":12700,"s":"Filter 3-σ bounds","up":0.058,"lo":-0.058},{"t":13500,"s":"Filter 3-σ bounds","up":0.052,"lo":-0.055},{"t":14000,"s":"Filter 3-σ bounds","up":0.05,"lo":-0.05},{"t":14200,"s":"Filter 3-σ bounds","up":0.048,"lo":-0.048},{"t":14800,"s":"Filter 3-σ bounds","up":0.05,"lo":-0.05}]
},
"vconcat": [
{"width": 514, "height": 109,
 "layer": [
  {"data": {"name": "eX"}, "transform": [{"fold": ["Filter Error"], "as": ["s", "v"]}],
   "mark": {"type": "line", "clip": true, "strokeWidth": 1.7},
   "encoding": {
    "x": {"field": "t", "type": "quantitative", "scale": {"domain": [1150, 14800], "nice": false, "zero": false}, "axis": {"values": [2000,4000,6000,8000,10000,12000,14000], "format": "d", "title": null}},
    "y": {"field": "v", "type": "quantitative", "scale": {"domain": [-0.3, 0.3], "nice": false}, "axis": {"values": [-0.2, 0, 0.2], "format": "~g", "title": "X [m/s]"}},
    "color": {"field": "s", "type": "nominal", "scale": {"domain": ["Filter Error", "Filter 3-σ bounds"], "range": ["#ff0000", "#0000ff"]}, "legend": {"orient": "none", "legendX": 371, "legendY": 2}},
    "strokeDash": {"field": "s", "type": "nominal", "scale": {"domain": ["Filter Error", "Filter 3-σ bounds"], "range": [[5, 3], [1, 0]]}, "legend": {"orient": "none", "legendX": 371, "legendY": 2}}
   }},
  {"data": {"name": "bX"}, "transform": [{"fold": ["up", "lo"], "as": ["side", "v"]}],
   "mark": {"type": "line", "clip": true, "strokeWidth": 1.2},
   "encoding": {
    "x": {"field": "t", "type": "quantitative"},
    "y": {"field": "v", "type": "quantitative"},
    "detail": {"field": "side"},
    "color": {"field": "s", "type": "nominal"},
    "strokeDash": {"field": "s", "type": "nominal"}
   }}
 ]},
{"width": 514, "height": 109,
 "layer": [
  {"data": {"name": "eY"}, "transform": [{"fold": ["Filter Error"], "as": ["s", "v"]}],
   "mark": {"type": "line", "clip": true, "strokeWidth": 1.7},
   "encoding": {
    "x": {"field": "t", "type": "quantitative", "scale": {"domain": [1150, 14800], "nice": false, "zero": false}, "axis": {"values": [2000,4000,6000,8000,10000,12000,14000], "format": "d", "title": null}},
    "y": {"field": "v", "type": "quantitative", "scale": {"domain": [-0.3, 0.3], "nice": false}, "axis": {"values": [-0.2, 0, 0.2], "format": "~g", "title": "Y [m/s]"}},
    "color": {"field": "s", "type": "nominal", "scale": {"domain": ["Filter Error", "Filter 3-σ bounds"], "range": ["#ff0000", "#0000ff"]}, "legend": null},
    "strokeDash": {"field": "s", "type": "nominal", "scale": {"domain": ["Filter Error", "Filter 3-σ bounds"], "range": [[5, 3], [1, 0]]}, "legend": null}
   }},
  {"data": {"name": "bY"}, "transform": [{"fold": ["up", "lo"], "as": ["side", "v"]}],
   "mark": {"type": "line", "clip": true, "strokeWidth": 1.2},
   "encoding": {
    "x": {"field": "t", "type": "quantitative"},
    "y": {"field": "v", "type": "quantitative"},
    "detail": {"field": "side"},
    "color": {"field": "s", "type": "nominal", "legend": null},
    "strokeDash": {"field": "s", "type": "nominal", "legend": null}
   }}
 ]},
{"width": 514, "height": 109,
 "layer": [
  {"data": {"name": "eZ"}, "transform": [{"fold": ["Filter Error"], "as": ["s", "v"]}],
   "mark": {"type": "line", "clip": true, "strokeWidth": 1.7},
   "encoding": {
    "x": {"field": "t", "type": "quantitative", "scale": {"domain": [1150, 14800], "nice": false, "zero": false}, "axis": {"values": [2000,4000,6000,8000,10000,12000,14000], "format": "d", "title": "Elapsed Time [s]"}},
    "y": {"field": "v", "type": "quantitative", "scale": {"domain": [-0.3, 0.3], "nice": false}, "axis": {"values": [-0.2, 0, 0.2], "format": "~g", "title": "Z [m/s]"}},
    "color": {"field": "s", "type": "nominal", "scale": {"domain": ["Filter Error", "Filter 3-σ bounds"], "range": ["#ff0000", "#0000ff"]}, "legend": null},
    "strokeDash": {"field": "s", "type": "nominal", "scale": {"domain": ["Filter Error", "Filter 3-σ bounds"], "range": [[5, 3], [1, 0]]}, "legend": null}
   }},
  {"data": {"name": "bZ"}, "transform": [{"fold": ["up", "lo"], "as": ["side", "v"]}],
   "mark": {"type": "line", "clip": true, "strokeWidth": 1.2},
   "encoding": {
    "x": {"field": "t", "type": "quantitative"},
    "y": {"field": "v", "type": "quantitative"},
    "detail": {"field": "side"},
    "color": {"field": "s", "type": "nominal", "legend": null},
    "strokeDash": {"field": "s", "type": "nominal", "legend": null}
   }}
 ]}
],
"resolve": {"scale": {"color": "independent", "strokeDash": "independent", "y": "independent", "x": "independent"}, "legend": {"color": "independent", "strokeDash": "independent"}},
"config": {
 "view": {"fill": "#f8e2ee", "stroke": "#333333", "strokeWidth": 1},
 "axis": {"domain": false, "grid": true, "gridColor": "#c4b6be", "gridWidth": 1, "tickColor": "#333333", "tickSize": -5, "labelFont": "Liberation Sans", "labelFontSize": 12, "labelColor": "#333333", "labelPadding": 11, "titleFont": "Liberation Sans", "titleFontSize": 16, "titleFontWeight": "bold", "titleColor": "#000"},
 "axisY": {"titlePadding": 8},
 "axisX": {"titlePadding": 4},
 "legend": {"title": null, "strokeColor": "#000000", "fillColor": "#ffffff", "padding": 3, "symbolType": "M-3.2,0H3.2", "symbolSize": 100, "symbolStrokeWidth": 1.6, "labelFont": "Liberation Sans", "labelFontSize": 12, "labelColor": "#333", "rowPadding": 1, "labelOffset": 24, "cornerRadius": 0}
}
}
